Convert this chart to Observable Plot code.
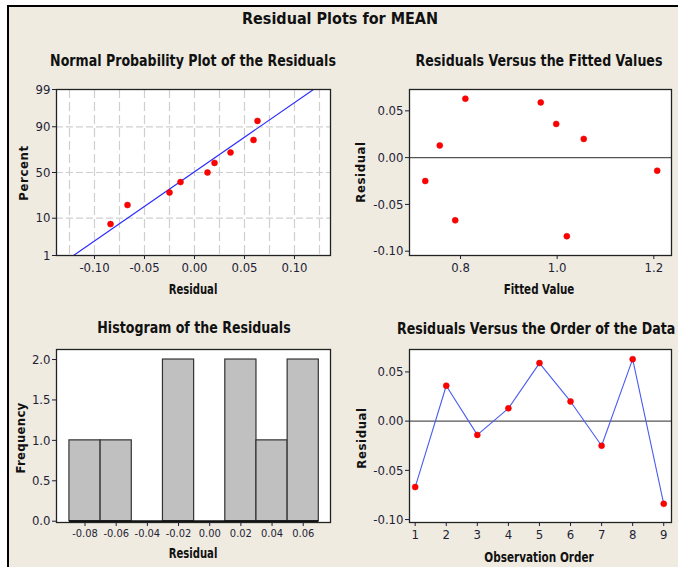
<!DOCTYPE html>
<html>
<head>
<meta charset="utf-8">
<script src="https://cdn.jsdelivr.net/npm/d3@7"></script>
<script src="https://cdn.jsdelivr.net/npm/@observablehq/plot@0.6"></script>
<style>
  html, body { margin: 0; padding: 0; background: #ffffff; }
  #page { position: relative; width: 678px; height: 567px; overflow: hidden; background: #ffffff; }
  #panel { position: absolute; left: 7px; top: 5px; width: 700px; height: 600px;
           border-left: 2px solid #000; border-top: 2px solid #000; background: #EFEBE1; box-sizing: border-box; }
  .lbl { position: absolute; white-space: nowrap; color: #111; font-family: "DejaVu Sans Condensed", "DejaVu Sans", sans-serif; font-stretch: condensed; line-height: 1; }
  .plot { position: absolute; }
</style>
</head>
<body>
<div id="page"><div id="panel"></div></div>
<script>
// ---------------- data ----------------
const observationOrder = [1, 2, 3, 4, 5, 6, 7, 8, 9];
const residuals = [-0.067, 0.036, -0.014, 0.013, 0.059, 0.020, -0.025, 0.063, -0.084];
const fittedValues = [0.789, 0.998, 1.207, 0.757, 0.966, 1.055, 0.727, 0.810, 1.020];
const sortedResiduals = [-0.084, -0.067, -0.025, -0.014, 0.013, 0.020, 0.036, 0.059, 0.063];
const percents = [7.4, 18.1, 28.7, 39.4, 50.0, 60.6, 71.3, 81.9, 92.6];
const fitLineResidual = [-0.121, 0.119];
const fitLinePercent = [1, 99];
const histBinStart = [-0.09, -0.07, -0.05, -0.03, -0.01, 0.01, 0.03, 0.05];
const histBinEnd = [-0.07, -0.05, -0.03, -0.01, 0.01, 0.03, 0.05, 0.07];
const histCounts = [1, 1, 0, 2, 0, 2, 1, 2];

const npTicksX = [-0.10, -0.05, 0.00, 0.05, 0.10];
const npGridX = [-0.125, -0.10, -0.075, -0.05, -0.025, 0, 0.025, 0.05, 0.075, 0.10, 0.125];
const npTicksY = [1, 10, 50, 90, 99];
const npGridY = [10, 50, 90];
const fitTicksX = [0.8, 1.0, 1.2];
const residTicksY = [-0.10, -0.05, 0.00, 0.05];
const histTicksX = [-0.08, -0.06, -0.04, -0.02, 0.00, 0.02, 0.04, 0.06];
const histTicksY = [0.0, 0.5, 1.0, 1.5, 2.0];
const orderTicksX = [1, 2, 3, 4, 5, 6, 7, 8, 9];

// ---------------- helpers ----------------
function probit(p) {
  const a = [-3.969683028665376e+01, 2.209460984245205e+02, -2.759285104469687e+02, 1.383577518672690e+02, -3.066479806614716e+01, 2.506628277459239e+00];
  const b = [-5.447609879822406e+01, 1.615858368580409e+02, -1.556989798598866e+02, 6.680131188771972e+01, -1.328068155288572e+01];
  const c = [-7.784894002430293e-03, -3.223964580411365e-01, -2.400758277161838e+00, -2.549732539343734e+00, 4.374664141464968e+00, 2.938163982698783e+00];
  const d = [7.784695709041462e-03, 3.224671290700398e-01, 2.445134137142996e+00, 3.754408661907416e+00];
  const pl = 0.02425;
  if (p < pl) { const q = Math.sqrt(-2 * Math.log(p)); return (((((c[0]*q+c[1])*q+c[2])*q+c[3])*q+c[4])*q+c[5]) / ((((d[0]*q+d[1])*q+d[2])*q+d[3])*q+1); }
  if (p > 1 - pl) { const q = Math.sqrt(-2 * Math.log(1 - p)); return -(((((c[0]*q+c[1])*q+c[2])*q+c[3])*q+c[4])*q+c[5]) / ((((d[0]*q+d[1])*q+d[2])*q+d[3])*q+1); }
  const q = p - 0.5, r = q * q;
  return (((((a[0]*r+a[1])*r+a[2])*r+a[3])*r+a[4])*r+a[5])*q / (((((b[0]*r+b[1])*r+b[2])*r+b[3])*r+b[4])*r+1);
}
const toZ = (pct) => probit(pct / 100);
const fmt = (n) => (v) => v.toFixed(n);

const FONT = '"DejaVu Sans Condensed", "DejaVu Sans", sans-serif';
const TICKCOLOR = "#1e1e36";
const panel = document.getElementById("panel");
const OX = 7 + 2, OY = 5 + 2; // panel inner origin in page coords

function place(svg, left, top) {
  svg.classList.add("plot");
  svg.style.left = (left - OX) + "px";
  svg.style.top = (top - OY) + "px";
  panel.appendChild(svg);
}
function text(t, x, y, o = {}) {
  const el = document.createElement("div");
  el.className = "lbl";
  el.textContent = t;
  el.style.fontSize = (o.size || 14) + "px";
  el.style.fontWeight = o.weight || "bold";
  if (o.ls) el.style.letterSpacing = o.ls + "px";
  el.style.left = (x - OX) + "px";
  el.style.top = (y - OY) + "px";
  const tx = o.anchor === "start" ? "0" : "-50%";
  el.style.transform = `translate(${tx},-50%)` + (o.rotate ? ` rotate(${o.rotate}deg)` : "") + (o.sx ? ` scaleX(${o.sx})` : "");
  el.style.transformOrigin = o.anchor === "start" ? "0 50%" : "50% 50%";
  panel.appendChild(el);
}
const baseStyle = { background: "transparent", fontFamily: FONT, fontSize: "13px", color: TICKCOLOR, overflow: "visible" };
const frameStroke = { stroke: "#222", strokeWidth: 1.3 };

// ---------------- 1: normal probability plot ----------------
const npIdx = d3.range(sortedResiduals.length);
const npTicksZ = npTicksY.map(toZ);
place(Plot.plot({
  width: 340, height: 260, marginLeft: 56, marginRight: 10, marginTop: 49, marginBottom: 45,
  style: baseStyle,
  x: { domain: [-0.138, 0.136] },
  y: { domain: [toZ(1), toZ(99)] },
  marks: [
    Plot.frame({ fill: "white" }),
    Plot.ruleX(npGridX, { stroke: "#cfcfcf", strokeWidth: 1.2, strokeDasharray: "9,4" }),
    Plot.ruleY(npGridY.map(toZ), { stroke: "#cfcfcf", strokeWidth: 1.2, strokeDasharray: "7,3" }),
    Plot.line([0, 1], { x: i => fitLineResidual[i], y: i => toZ(fitLinePercent[i]), stroke: "#2b2bff", strokeWidth: 1.1 }),
    Plot.dot(npIdx, { x: i => sortedResiduals[i], y: i => toZ(percents[i]), r: 3, fill: "#ff0000", stroke: "#e00000", strokeWidth: 0.5 }),
    Plot.frame(frameStroke),
    Plot.axisX(npTicksX, { tickFormat: fmt(2), tickSize: 4, tickPadding: 3, label: null }),
    Plot.axisY(npTicksZ, { tickFormat: z => String(npTicksY[npTicksZ.indexOf(z)]), tickSize: 4, tickPadding: 2, label: null })
  ]
}), 0, 40);

// ---------------- 2: residuals vs fitted ----------------
const idx = d3.range(residuals.length);
place(Plot.plot({
  width: 338, height: 260, marginLeft: 69, marginRight: 7, marginTop: 49, marginBottom: 45,
  style: baseStyle,
  x: { domain: [0.6944, 1.2366] },
  y: { domain: [-0.1046, 0.0728] },
  marks: [
    Plot.frame({ fill: "white" }),
    Plot.ruleY([0], { stroke: "#555", strokeWidth: 1.2 }),
    Plot.dot(idx, { x: i => fittedValues[i], y: i => residuals[i], r: 3, fill: "#ff0000", stroke: "#e00000", strokeWidth: 0.5 }),
    Plot.frame(frameStroke),
    Plot.axisX(fitTicksX, { tickFormat: fmt(1), tickSize: 4, tickPadding: 3, label: null }),
    Plot.axisY(residTicksY, { tickFormat: fmt(2), tickSize: 4, tickPadding: 2, label: null })
  ]
}), 340, 40);

// ---------------- 3: histogram ----------------
const hIdx = d3.range(histCounts.length).filter(i => histCounts[i] > 0);
place(Plot.plot({
  width: 340, height: 257, marginLeft: 56, marginRight: 10, marginTop: 39, marginBottom: 45,
  style: baseStyle,
  x: { domain: [-0.0983, 0.0775] },
  y: { domain: [-0.016, 2.124] },
  marks: [
    Plot.frame({ fill: "white" }),
    Plot.rect(hIdx, { x1: i => histBinStart[i], x2: i => histBinEnd[i], y1: 0, y2: i => histCounts[i], fill: "#c0c0c0", stroke: "#333", strokeWidth: 1.2 }),
    Plot.ruleY([0], { x1: histBinStart[0], x2: histBinEnd[histBinEnd.length - 1], stroke: "#111", strokeWidth: 2 }),
    Plot.frame(frameStroke),
    Plot.axisX(histTicksX, { tickFormat: fmt(2), tickSize: 4, tickPadding: 3, fontSize: 11, label: null }),
    Plot.axisY(histTicksY, { tickFormat: fmt(1), tickSize: 4, tickPadding: 2, label: null })
  ]
}), 0, 310);

// ---------------- 4: residuals vs order ----------------
place(Plot.plot({
  width: 338, height: 257, marginLeft: 69, marginRight: 7, marginTop: 39, marginBottom: 45,
  style: baseStyle,
  x: { domain: [0.817, 9.25] },
  y: { domain: [-0.103, 0.0728] },
  marks: [
    Plot.frame({ fill: "white" }),
    Plot.ruleY([0], { stroke: "#555", strokeWidth: 1.2 }),
    Plot.line(idx, { x: i => observationOrder[i], y: i => residuals[i], stroke: "#4a5cf0", strokeWidth: 1.1 }),
    Plot.dot(idx, { x: i => observationOrder[i], y: i => residuals[i], r: 3, fill: "#ff0000", stroke: "#e00000", strokeWidth: 0.5 }),
    Plot.frame(frameStroke),
    Plot.axisX(orderTicksX, { tickFormat: d => String(d), tickSize: 4, tickPadding: 3, label: null }),
    Plot.axisY(residTicksY, { tickFormat: fmt(2), tickSize: 4, tickPadding: 2, label: null })
  ]
}), 340, 310);

// ---------------- titles & labels ----------------
text("Residual Plots for MEAN", 340, 19, { size: 16.5, sx: 0.97 });
text("Normal Probability Plot of the Residuals", 193, 61, { size: 16.5, sx: 0.85 });
text("Residuals Versus the Fitted Values", 539, 61, { size: 16.5, sx: 0.85 });
text("Histogram of the Residuals", 194, 327.5, { size: 16.5, sx: 0.85 });
text("Residuals Versus the Order of the Data", 397, 329, { size: 16.5, sx: 0.85, anchor: "start" });

text("Residual", 192.5, 288.5, { size: 14, sx: 0.8 });
text("Fitted Value", 539, 288.5, { size: 14, sx: 0.82 });
text("Residual", 192.5, 553, { size: 14, sx: 0.8 });
text("Observation Order", 538.7, 556.5, { size: 14, sx: 0.83 });

text("Percent", 23, 173, { size: 13, rotate: -90, ls: 0.6 });
text("Residual", 360, 171.7, { size: 13, rotate: -90, ls: 0.6 });
text("Frequency", 20, 437.5, { size: 13, rotate: -90, ls: 0.3 });
text("Residual", 360.5, 437.5, { size: 13, rotate: -90, ls: 0.6 });
</script>
</body>
</html>
